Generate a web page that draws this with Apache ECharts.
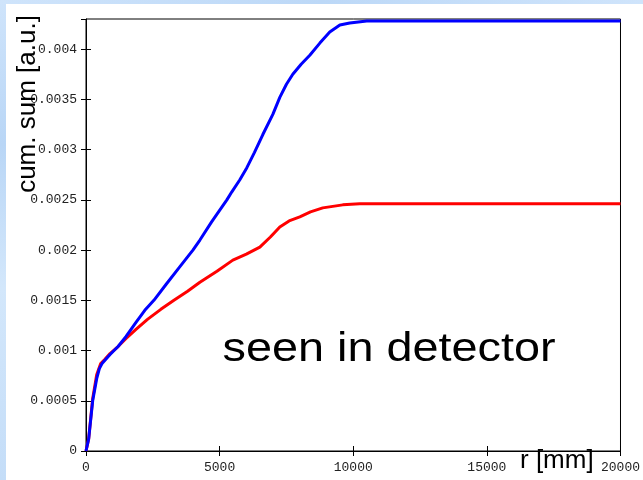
<!DOCTYPE html>
<html><head><meta charset="utf-8">
<script src="https://cdn.jsdelivr.net/npm/echarts@6/dist/echarts.min.js"></script>
<style>
html,body{margin:0;padding:0;background:#fff;}
#wrap{position:relative;width:643px;height:480px;background:#fff;overflow:hidden;}
#left{position:absolute;left:0;top:0;width:6px;height:480px;background:linear-gradient(180deg,#cfe4fb 0%,#b9d6f6 30%,#d3e7fb 60%,#c4ddf8 100%);}
#top{position:absolute;left:0;top:0;width:643px;height:4px;background:linear-gradient(90deg,#cfe4fb 0%,#bcd8f7 50%,#cfe4fb 100%);}
#chart{position:absolute;left:0;top:0;width:643px;height:480px;}
</style></head>
<body><div id="wrap"><div id="left"></div><div id="top"></div><div id="chart"></div></div>
<script>
const rBlue = [0,100,250,400,500,600,700,900,1200,1500,1870,2200,2540,3000,3500,4000,4262,4700,5271,5458,5757,6019,6300,6617,6991,7252,7500,7738,8050,8374,8750,9121,9500,9869,10505,12000,20000];
const blueVals = [0,0.00012,0.0005,0.00072,0.00082,0.00087,0.0009,0.00096,0.00104,0.00114,0.00128,0.0014,0.0015,0.00166,0.00183,0.002,0.0021,0.00228,0.0025,0.00258,0.0027,0.00282,0.00297,0.00315,0.00335,0.00352,0.00365,0.00375,0.00385,0.00394,0.00406,0.00417,0.00424,0.00426,0.00428,0.00428,0.00428];
const rRed = [0,100,250,400,550,700,900,1200,1500,1870,2300,2800,3290,3800,4262,4900,5495,6000,6505,6900,7252,7600,8000,8400,8860,9608,10243,20000];
const redVals = [0,0.00012,0.00052,0.00076,0.00087,0.00091,0.00097,0.00104,0.00112,0.00121,0.00131,0.00141,0.0015,0.00159,0.00168,0.00179,0.0019,0.00196,0.00203,0.00213,0.00223,0.00229,0.00233,0.00238,0.00242,0.00245,0.00246,0.00246];
const xTitle = 'r [mm]';
const yTitle = 'cum. sum [a.u.]';
const note = 'seen in detector';

const chart = echarts.init(document.getElementById('chart'), null, {renderer:'canvas'});
const tickFont = {fontFamily:'Liberation Mono, DejaVu Sans Mono, monospace', fontSize:13, color:'#222'};
function fmt(v){ if (v===0) return '0'; return String(+v.toFixed(6)); }
chart.setOption({
  backgroundColor:'transparent',
  animation:false,
  grid:{left:86, top:19, right:22, bottom:29, show:true, borderColor:'#000', borderWidth:1, backgroundColor:'transparent'},
  xAxis:[
    {type:'value', min:0, max:20000, interval:5000, position:'bottom',
     axisLine:{show:true, lineStyle:{color:'#000', width:1}},
     axisTick:{show:true, inside:true, length:5, lineStyle:{color:'#000'}},
     splitLine:{show:false},
     axisLabel:Object.assign({margin:10, formatter:fmt}, tickFont)},
    {type:'value', min:0, max:20000, interval:5000, position:'top',
     axisLine:{show:false}, axisTick:{show:true, inside:true, length:5, lineStyle:{color:'#000'}},
     splitLine:{show:false}, axisLabel:{show:false}}
  ],
  yAxis:[
    {type:'value', min:0, max:0.0043, interval:0.0005, position:'left',
     axisLine:{show:true, lineStyle:{color:'#000', width:1}},
     axisTick:{show:true, inside:true, length:5, lineStyle:{color:'#000'}},
     splitLine:{show:false},
     axisLabel:Object.assign({margin:9, formatter:fmt, showMaxLabel:false}, tickFont)},
    {type:'value', min:0, max:0.0043, interval:0.0005, position:'right',
     axisLine:{show:false}, axisTick:{show:true, inside:true, length:5, lineStyle:{color:'#000'}},
     splitLine:{show:false}, axisLabel:{show:false}}
  ],
  series:[
    {type:'line', name:'red', data:rRed.map((r,i)=>[r,redVals[i]]), showSymbol:false, symbol:'none',
     lineStyle:{color:'#ff0000', width:3}, xAxisIndex:0, yAxisIndex:0, z:2},
    {type:'line', name:'blue', data:rBlue.map((r,i)=>[r,blueVals[i]]), showSymbol:false, symbol:'none',
     lineStyle:{color:'#0000ff', width:3}, xAxisIndex:0, yAxisIndex:0, z:3}
  ],
  graphic:[
    {type:'text', left:520, top:448, style:{text:xTitle, font:'26px "Liberation Sans", Arial, sans-serif', fill:'#000'}, z:10},
    {type:'text', x:28, y:104, rotation:Math.PI/2, style:{text:yTitle, font:'26px "Liberation Sans", Arial, sans-serif', fill:'#000', align:'center', verticalAlign:'middle'}, z:10},
    {type:'text', x:389, y:350, scaleX:1.17, style:{text:note, font:'40px "Liberation Sans", Arial, sans-serif', fill:'#000', align:'center', verticalAlign:'middle'}, z:10}
  ]
});
</script></body></html>
